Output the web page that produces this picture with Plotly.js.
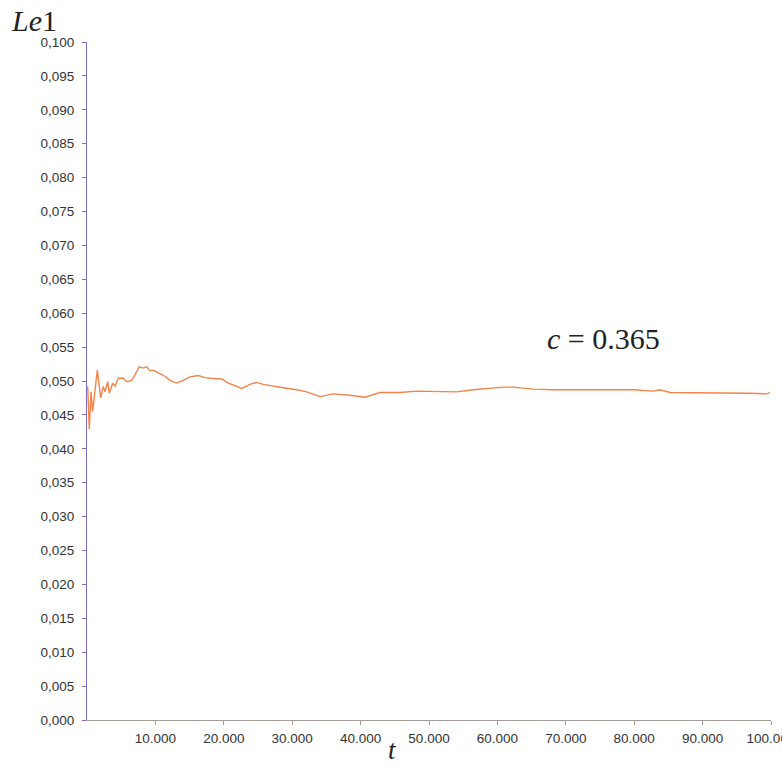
<!DOCTYPE html>
<html>
<head>
<meta charset="utf-8">
<script src="https://cdn.plot.ly/plotly-3.0.1.min.js"></script>
<style>
  html, body { margin: 0; padding: 0; background: #ffffff; }
  #chart { width: 782px; height: 765px; }
</style>
</head>
<body>
<div id="chart"></div>
<script>
// Time steps t and the running estimate Le1 for c = 0.365
const tValues = [100, 336, 585, 833, 1506, 2003, 2383, 2632, 3026, 3260, 3757, 4094, 4576, 5307,
  5804, 6535, 7018, 7646, 8231, 8728, 9211, 9693, 10424, 10921, 11404, 12135, 13114, 14079,
  15059, 16272, 17251, 17982, 19693, 20424, 21389, 22617, 23830, 24810, 25775, 27237, 28699,
  30658, 32120, 34064, 35965, 38450, 40643, 42836, 45760, 48202, 51608, 54050, 56477, 58436,
  60863, 62325, 65249, 68173, 72558, 79868, 82792, 83772, 85234, 89620, 94488, 96930, 99371, 99854];
const le1Values = [0.0492, 0.0429, 0.0484, 0.0455, 0.0516, 0.0475, 0.0492, 0.0484, 0.0499, 0.0482,
  0.0497, 0.0492, 0.0504, 0.0504, 0.0499, 0.0501, 0.0509, 0.0521, 0.0519, 0.0521, 0.0515, 0.0516,
  0.0512, 0.0509, 0.0507, 0.0501, 0.0497, 0.0501, 0.0506, 0.0508, 0.0505, 0.0504, 0.0503, 0.0498,
  0.0494, 0.0489, 0.0495, 0.0498, 0.0495, 0.0493, 0.0490, 0.0487, 0.0484, 0.0477, 0.0481, 0.0479,
  0.0476, 0.0483, 0.0483, 0.0485, 0.0485, 0.0484, 0.0487, 0.0489, 0.0491, 0.0491, 0.0488, 0.0487,
  0.0487, 0.0487, 0.0485, 0.0487, 0.0483, 0.0483, 0.0482, 0.0482, 0.0481, 0.0483];

const xTicks = [10000, 20000, 30000, 40000, 50000, 60000, 70000, 80000, 90000, 100000];
const yTicks = [0, 0.005, 0.01, 0.015, 0.02, 0.025, 0.03, 0.035, 0.04, 0.045, 0.05,
  0.055, 0.06, 0.065, 0.07, 0.075, 0.08, 0.085, 0.09, 0.095, 0.1];
const cLabel = '<i>c</i> = 0.365';

const trace = {
  x: tValues,
  y: le1Values,
  type: 'scatter',
  mode: 'lines',
  line: { color: '#f4844a', width: 1.4 },
  hoverinfo: 'skip'
};

const serif = '"Liberation Serif", "DejaVu Serif", serif';

const layout = {
  width: 782,
  height: 765,
  margin: { l: 87, r: 11, t: 42, b: 45 },
  paper_bgcolor: '#ffffff',
  plot_bgcolor: '#ffffff',
  showlegend: false,
  separators: ',.',
  font: { family: '"Liberation Sans", Arial, sans-serif', size: 13.5, color: '#333333' },
  xaxis: {
    range: [0, 100000],
    tickvals: xTicks,
    tickformat: ',d',
    showgrid: false,
    zeroline: false,
    showline: true,
    linecolor: '#a89c98',
    linewidth: 1,
    ticks: 'outside',
    ticklen: 4,
    tickcolor: '#a89c98',
    ticklabeloverflow: 'allow',
    ticklabelstandoff: 2,
    tickfont: { size: 13.5, color: '#333333' }
  },
  yaxis: {
    range: [0, 0.1],
    tickvals: yTicks,
    tickformat: '.3f',
    showgrid: false,
    zeroline: false,
    showline: true,
    linecolor: '#7a6ec6',
    linewidth: 1,
    ticks: 'outside',
    ticklen: 4,
    tickcolor: '#7a6ec6',
    ticklabelstandoff: 5,
    tickfont: { size: 13.5, color: '#333333' }
  },
  annotations: [
    {
      xref: 'paper', yref: 'paper', x: -0.114, y: 1.032,
      xanchor: 'left', yanchor: 'middle', showarrow: false,
      text: '<i>Le</i>1',
      font: { family: serif, size: 30, color: '#222222' }
    },
    {
      xref: 'paper', yref: 'paper', x: 0.446, y: -0.044,
      xanchor: 'center', yanchor: 'middle', showarrow: false,
      text: '<i>t</i>',
      font: { family: serif, size: 27, color: '#222222' }
    },
    {
      xref: 'x', yref: 'y', x: 75500, y: 0.0563,
      xanchor: 'center', yanchor: 'middle', showarrow: false,
      text: cLabel,
      font: { family: serif, size: 30, color: '#222222' }
    }
  ]
};

Plotly.newPlot('chart', [trace], layout, { displayModeBar: false, staticPlot: true });
</script>
</body>
</html>
